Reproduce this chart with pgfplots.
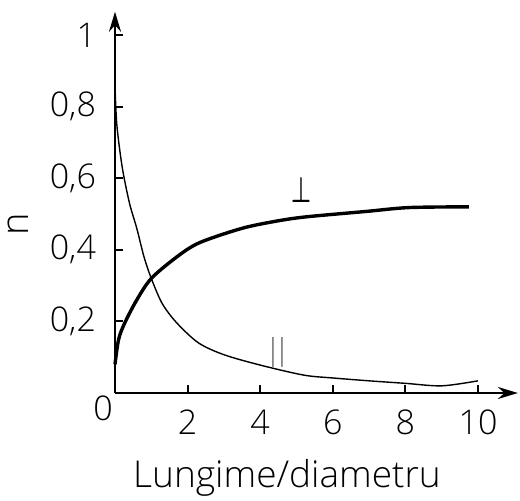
\documentclass[border=0pt]{standalone}
\usepackage{fontspec}
\IfFontExistsTF{Open Sans Light}{\setmainfont{Open Sans Light}}{\setmainfont{Open Sans}}
\newfontfamily\reg{Open Sans}
\usepackage{pgfplots}
\pgfplotsset{compat=1.18}
\usetikzlibrary{arrows.meta}
\newcommand\vstroke{\resizebox{2.2pt}{11.5pt}{\reg\bfseries |}}

\begin{document}
\begin{tikzpicture}
\useasboundingbox (0,0) rectangle (260pt,250pt);
\begin{axis}[
  at={(57.5pt,53.5pt)}, anchor=origin,
  x=18.15pt, y=179pt,
  xmin=0, xmax=11.1, ymin=0, ymax=1.065,
  axis lines=left,
  axis line style={line width=1.3pt, -{Stealth[length=10pt,width=6pt]}},
  xtick={2,4,6,8,10}, ytick={0.2,0.4,0.6,0.8,1},
  yticklabels={{0,2},{0,4},{0,6},{0,8},1},
  tick align=inside, major tick length=4pt,
  tick style={line width=1pt, black},
  ticklabel style={font=\fontsize{17}{17}\selectfont},
  yticklabel style={xshift=-6pt},
  xticklabel style={yshift=-5pt},
  /pgf/number format/assume math mode=true,
  clip=false,
]
% perpendicular orientation (thick)
\addplot[line width=1.7pt, smooth, tension=0.5] coordinates {
  (0,0.08) (0.1,0.15) (0.27,0.196) (0.6,0.26) (1.0,0.32) (1.7,0.38)
  (2.33,0.42) (3.5,0.46) (4.44,0.48) (5.26,0.492) (6.9,0.507)
  (8.1,0.518) (9.75,0.52)};
% parallel orientation (thin)
\addplot[line width=0.7pt, smooth, tension=0.5] coordinates {
  (0,0.86) (0.05,0.75) (0.2,0.63) (0.4,0.53) (0.6,0.46) (0.8,0.38)
  (1.0,0.32) (1.3,0.25) (1.7,0.196) (2.3,0.14) (3.0,0.107) (4.0,0.078)
  (5.2,0.05) (6,0.042) (7,0.034) (8,0.027) (9,0.02) (10,0.034)};
\node[inner sep=0pt] at (axis cs:5.15,0.567) {\resizebox{10pt}{12.5pt}{\boldmath$\perp$}};
\node[inner sep=0pt] at (axis cs:4.48,0.112) {\vstroke\kern2.3pt\vstroke};
\end{axis}
\node[font=\fontsize{17}{17}\selectfont] at (51.5pt,46pt) {0};
\node[rotate=90, font=\fontsize{19}{19}\selectfont] at (9pt,138pt) {n};
\node[font=\fontsize{18.5}{18.5}\selectfont] at (143.5pt,11pt) {Lungime/diametru};
\end{tikzpicture}
\end{document}
